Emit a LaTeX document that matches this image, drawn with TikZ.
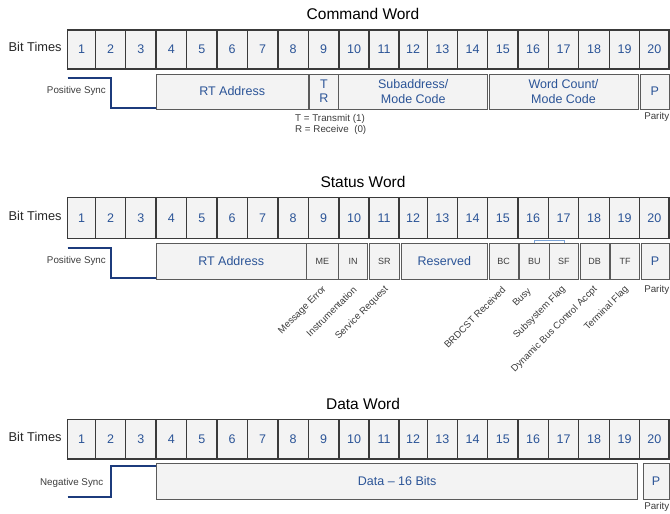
\documentclass[tikz,border=0pt]{standalone}
\usepackage{fontspec}
\setmainfont{Liberation Sans}
\definecolor{cellfill}{HTML}{F3F3F3}
\definecolor{cellline}{HTML}{3A3A3A}
\definecolor{boxline}{HTML}{5A5A5A}
\definecolor{numblue}{HTML}{2B5497}
\definecolor{syncblue}{HTML}{1C3B7C}
\definecolor{brktblue}{HTML}{7BA3D6}
\definecolor{lbl}{HTML}{3C3C3C}
\tikzset{
 cell/.style={draw=cellline, fill=cellfill, line width=1.2pt, inner sep=0pt, text=numblue, font=\fontsize{12.5}{14}\selectfont},
 field/.style={draw=boxline, fill=cellfill, line width=0.9pt, inner sep=0pt, text=numblue, font=\fontsize{12.5}{15}\selectfont, align=center},
 flag/.style={field, text=lbl, font=\fontsize{9}{10}\selectfont},
 title/.style={font=\fontsize{15.5}{18}\selectfont, text=black},
 side/.style={font=\fontsize{12.8}{14}\selectfont, text=black!85, inner sep=0pt},
 small/.style={font=\fontsize{9.8}{11}\selectfont, text=lbl, inner sep=0pt},
 diag/.style={font=\fontsize{9.6}{10}\selectfont, text=lbl, inner sep=0pt, rotate=45, anchor=east},
 sync/.style={draw=syncblue, line width=1.7pt},
 brkt/.style={draw=brktblue, line width=1pt},
}
\newcommand\mkfld[7]{%
 \pgfmathsetmacro\fldw{#3-#2}\pgfmathsetmacro\fldh{#5-#4}%
 \pgfmathsetmacro\fldcx{(#2+#3)/2}\pgfmathsetmacro\fldcy{(#4+#5)/2}%
 \node[#6, minimum width=\fldw pt, minimum height=\fldh pt] (#1) at (\fldcx,\fldcy) {#7};}
\def\bx{{67.7,95.7,125.7,156,186.7,217,247.3,278,308.3,339,369,399,427.3,457.3,487.7,518,548.3,578.7,609.3,639.7,669}}
\newcommand\mkrow[3]{%
 \foreach \i in {1,...,20}{%
  \pgfmathsetmacro\xa{\bx[\i-1]}\pgfmathsetmacro\xb{\bx[\i]}%
  \mkfld{#1\i}{\xa}{\xb}{#2}{#3}{cell}{\i}}}
\begin{document}
\begin{tikzpicture}[x=1pt,y=-1pt]
\useasboundingbox (0,0) rectangle (670,514);
% ---------------- Command word
\node[title] (t1) at (363,14) {Command Word};
\node[side, anchor=west] (bt1) at (8.5,47) {Bit Times};
\mkrow{a}{30}{69}
\mkfld{aRT}{156.3}{308}{74}{109}{field}{RT Address}
\mkfld{aTR}{309.7}{338}{74}{109}{field}{T\\[-1pt]R}
\mkfld{aSA}{338.8}{487.7}{74}{109}{field}{Subaddress/\\Mode Code}
\mkfld{aWC}{489}{638}{74}{109}{field}{Word Count/\\Mode Code}
\mkfld{aP}{640.7}{669}{74}{109}{field}{P}
\coordinate (as0) at (67.7,78);
\coordinate (as1) at (111,78);
\coordinate (as2) at (111,108);
\draw[sync] (as0) -- (as1) -- (as2) -- (as2 -| aRT.west);
\node[small, anchor=east] (aps) at (106,90.5) {Positive Sync};
\node[small, anchor=north west, align=left] (atr) at (295,114.5) {T = Transmit (1)\\R = Receive\ \ (0)};
\node[small, anchor=east] (apar) at (669.5,116.5) {Parity};
% ---------------- Status word
\node[title] (t2) at (363,182) {Status Word};
\node[side, anchor=west] (bt2) at (8.5,216) {Bit Times};
\mkrow{b}{197.5}{238.5}
\mkfld{bRT}{156.3}{306}{243}{279}{field}{RT Address}
\mkfld{bME}{306.7}{338}{243}{279}{flag}{ME}
\mkfld{bIN}{338.6}{367.7}{243}{279}{flag}{IN}
\mkfld{bSR}{369.7}{399}{243}{279}{flag}{SR}
\mkfld{bRes}{401}{487.7}{243}{279}{field}{Reserved}
\mkfld{bBC}{489}{518}{243}{279}{flag}{BC}
\mkfld{bBU}{519.7}{549}{243}{279}{flag}{BU}
\mkfld{bSF}{549}{578.7}{243}{279}{flag}{SF}
\mkfld{bDB}{580}{609.3}{243}{279}{flag}{DB}
\mkfld{bTF}{610.7}{639.3}{243}{279}{flag}{TF}
\mkfld{bP}{641}{669}{243}{279}{field}{P}
\coordinate (bk0) at (534.7,243);
\coordinate (bk1) at (534.7,240.7);
\coordinate (bk2) at (564.7,240.7);
\coordinate (bk3) at (564.7,243);
\draw[brkt] (bk0) -- (bk1) -- (bk2) -- (bk3);
\coordinate (bs0) at (67.7,248);
\coordinate (bs1) at (111,248);
\coordinate (bs2) at (111,278);
\draw[sync] (bs0) -- (bs1) -- (bs2) -- (bs2 -| bRT.west);
\node[small, anchor=east] (bps) at (106,260.5) {Positive Sync};
\node[small, anchor=east] (bpar) at (669.5,290) {Parity};
\node[diag] (lme) at (325,288) {Message Error};
\node[diag] (lin) at (355,288) {Instrumentation};
\node[diag] (lsr) at (387,288) {Service Request};
\node[diag] (lbc) at (504,288) {BRDCST Received};
\node[diag] (lbu) at (530,290) {Busy};
\node[diag] (lsf) at (564,288) {Subsystem Flag};
\node[diag] (ldb) at (596,288) {Dynamic Bus Control Accpt};
\node[diag] (ltf) at (627,288) {Terminal Flag};
% ---------------- Data word
\node[title] (t3) at (363,404) {Data Word};
\node[side, anchor=west] (bt3) at (8.5,437) {Bit Times};
\mkrow{c}{419.5}{459}
\mkfld{cD}{156.7}{637.7}{463.5}{499}{field}{Data -- 16 Bits}
\mkfld{cP}{643.3}{669}{463.5}{499}{field}{P}
\coordinate (cs0) at (67.7,496.7);
\coordinate (cs1) at (110.7,496.7);
\coordinate (cs2) at (110.7,466);
\draw[sync] (cs0) -- (cs1) -- (cs2) -- (cs2 -| cD.west);
\node[small, anchor=east] (cns) at (103.5,483) {Negative Sync};
\node[small, anchor=east] (cpar) at (669.5,507) {Parity};
\end{tikzpicture}
\end{document}
